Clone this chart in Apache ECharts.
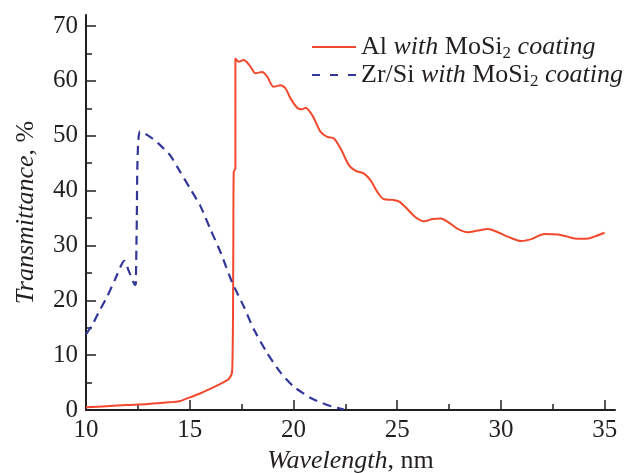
<!DOCTYPE html>
<html>
<head>
<meta charset="utf-8">
<script src="https://cdn.jsdelivr.net/npm/echarts@6/dist/echarts.min.js"></script>
<style>html,body{margin:0;padding:0;background:#fff}#c{width:640px;height:473px}</style>
</head>
<body>
<div id="c"></div>
<script>
var alX = [10, 11, 12, 13, 14, 14.5, 15, 15.5, 16, 16.5, 16.9, 17.05, 17.1, 17.12, 17.2, 17.2, 17.36, 17.6, 17.93, 18.17, 18.49, 18.73, 19.05, 19.38, 19.62, 19.86, 20.18, 20.42, 20.58, 20.91, 21.31, 21.63, 21.95, 22.28, 22.68, 23.0, 23.4, 23.73, 24.05, 24.37, 24.77, 25.1, 25.5, 25.9, 26.3, 26.71, 27.1, 27.51, 27.92, 28.4, 28.88, 29.37, 29.85, 30.33, 30.98, 31.5, 32.1, 32.75, 33.2, 33.7, 34.1, 34.5, 35.0];
var alY = [0.5, 0.7, 0.9, 1.1, 1.4, 1.6, 2.3, 3.0, 3.9, 4.8, 5.7, 7.3, 28.7, 43.4, 44, 64.1, 63.5, 63.8, 62.6, 61.4, 61.6, 60.8, 58.9, 59.2, 58.6, 56.8, 55.1, 54.8, 55.1, 53.7, 50.7, 49.8, 49.5, 47.6, 44.6, 43.6, 43.1, 41.8, 39.7, 38.4, 38.3, 38.0, 36.6, 35.1, 34.4, 34.8, 34.9, 34.1, 33.0, 32.4, 32.7, 33.0, 32.4, 31.6, 30.8, 31.2, 32.1, 32.0, 31.6, 31.2, 31.2, 31.6, 32.3];
var zrX = [10, 10.3, 10.68, 11.0, 11.4, 11.84, 12.1, 12.37, 12.4, 12.45, 12.48, 12.6, 13.09, 13.6, 14.06, 14.54, 15.03, 15.5, 15.99, 16.48, 17.04, 17.6, 18.09, 18.73, 19.38, 20.0, 20.83, 21.63, 22.44];
var zrY = [13.8, 15.5, 18.3, 20.5, 23.8, 27.2, 25.0, 22.8, 23, 35, 45, 50.8, 49.8, 48.2, 46.4, 43.4, 40.3, 37.3, 33.0, 28.8, 23.3, 18.9, 14.7, 10.4, 6.8, 4.3, 2.2, 0.9, 0.1];
var xTicks = [10, 15, 20, 25, 30, 35];
var xMinor = [12.5, 17.5, 22.5, 27.5, 32.5];
var yTicks = [0, 10, 20, 30, 40, 50, 60, 70];
var yMinor = [5, 15, 25, 35, 45, 55, 65];
var nameAl = 'Al with MoSi2 coating';
var nameZr = 'Zr/Si with MoSi2 coating';

function zip(a, b) { return a.map(function (v, i) { return [v, b[i]]; }); }

var FONT = '"Liberation Serif", "Times New Roman", serif';
var INK = '#231f20';
var RED = '#f2492d';
var BLUE = '#33379a';
var richBase = {
  r: { fontFamily: FONT, fontSize: 26, color: INK, lineHeight: 30 },
  i: { fontFamily: FONT, fontSize: 26, color: INK, fontStyle: 'italic', lineHeight: 30 },
  s: { fontFamily: FONT, fontSize: 17, color: INK, lineHeight: 12, verticalAlign: 'bottom' }
};
function legendFmt(n) {
  if (n === nameAl) return '{r|Al }{i|with }{r|MoSi}{s|2}{i| coating}';
  return '{r|Zr/Si }{i|with }{r|MoSi}{s|2}{i| coating}';
}
var legendCommon = {
  orient: 'vertical', left: 307, itemWidth: 44, itemHeight: 2, itemGap: 7,
  formatter: legendFmt,
  textStyle: { rich: richBase }
};

var chart = echarts.init(document.getElementById('c'));
chart.setOption({
  animation: false,
  backgroundColor: '#fff',
  grid: { left: 86, right: 25, top: 15, bottom: 63, containLabel: false, outerBoundsMode: 'none' },
  legend: [
    Object.assign({ top: 29, data: [{ name: nameAl, icon: 'path://M0,0H44V2H0Z', itemStyle: { color: RED } }] }, legendCommon),
    Object.assign({ top: 57, data: [{ name: nameZr, icon: 'path://M0,0h8v2h-8zM18,0h8v2h-8zM36,0h8v2h-8z', itemStyle: { color: BLUE } }] }, legendCommon)
  ],
  xAxis: [{
    type: 'value', min: 10, max: 35.5, interval: 5, position: 'bottom',
    name: '{i|Wavelength}{r|, nm}', nameLocation: 'middle', nameGap: 36,
    nameTextStyle: { rich: richBase },
    axisLine: { lineStyle: { color: INK, width: 2 } },
    axisTick: { inside: true, length: 10, customValues: xTicks, lineStyle: { color: INK, width: 1.5 } },
    axisLabel: { customValues: xTicks, margin: 8, fontFamily: FONT, fontSize: 25, color: INK },
    splitLine: { show: false }
  }, {
    type: 'value', min: 10, max: 35.5, position: 'bottom',
    axisLine: { show: false },
    axisTick: { inside: true, length: 6, customValues: xMinor, lineStyle: { color: INK, width: 1.5 } },
    axisLabel: { show: false },
    splitLine: { show: false }
  }],
  yAxis: [{
    type: 'value', min: 0, max: 72, interval: 10, position: 'left',
    name: '{i|Transmittance}{r|, %}', nameLocation: 'middle', nameGap: 45, nameRotate: 90,
    nameTextStyle: { rich: richBase },
    axisLine: { show: true, lineStyle: { color: INK, width: 2 } },
    axisTick: { show: true, inside: true, length: 10, customValues: yTicks, lineStyle: { color: INK, width: 1.5 } },
    axisLabel: { customValues: yTicks, margin: 8, fontFamily: FONT, fontSize: 25, color: INK },
    splitLine: { show: false }
  }, {
    type: 'value', min: 0, max: 72, position: 'left',
    axisLine: { show: false },
    axisTick: { show: true, inside: true, length: 6, customValues: yMinor, lineStyle: { color: INK, width: 1.5 } },
    axisLabel: { show: false },
    splitLine: { show: false }
  }],
  series: [{
    name: nameAl, type: 'line', xAxisIndex: 0, yAxisIndex: 0,
    data: zip(alX, alY), symbol: 'none', smooth: 0.3,
    lineStyle: { color: RED, width: 2 }, itemStyle: { color: RED }
  }, {
    name: nameZr, type: 'line', xAxisIndex: 0, yAxisIndex: 0,
    data: zip(zrX, zrY), symbol: 'none', smooth: 0.2,
    lineStyle: { color: BLUE, width: 2.2, type: [9, 6] }, itemStyle: { color: BLUE }
  }]
});
</script>
</body>
</html>
